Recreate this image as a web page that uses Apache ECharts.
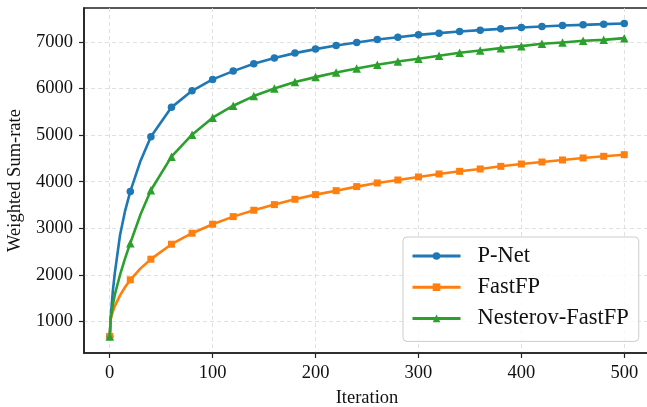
<!DOCTYPE html>
<html>
<head>
<meta charset="utf-8">
<script src="https://cdn.jsdelivr.net/npm/echarts@6/dist/echarts.min.js"></script>
<style>
html,body{margin:0;padding:0;background:#fff;}
#chart{width:647px;height:407px;}
</style>
</head>
<body>
<div id="chart"></div>
<script>
const iterations = [0, 1, 3, 5, 10, 15, 20, 30, 40, 60, 80, 100, 120, 140, 160, 180, 200, 220, 240, 260, 280, 300, 320, 340, 360, 380, 400, 420, 440, 460, 480, 500];
const pNet = [680, 1100, 1650, 2050, 2850, 3380, 3790, 4450, 4964, 5594, 5950, 6194, 6372, 6529, 6651, 6758, 6844, 6922, 6986, 7051, 7100, 7150, 7186, 7222, 7251, 7279, 7308, 7329, 7350, 7364, 7379, 7393];
const fastFP = [680, 1050, 1210, 1330, 1560, 1740, 1894, 2140, 2337, 2658, 2894, 3087, 3250, 3387, 3508, 3622, 3722, 3807, 3894, 3972, 4036, 4101, 4165, 4222, 4272, 4329, 4379, 4422, 4465, 4508, 4544, 4579];
const nesterovFastFP = [680, 1080, 1350, 1580, 2000, 2360, 2680, 3300, 3815, 4536, 5007, 5372, 5629, 5836, 6000, 6136, 6243, 6343, 6429, 6508, 6579, 6636, 6700, 6765, 6815, 6865, 6908, 6958, 6986, 7022, 7043, 7079];
const seriesNames = ['P-Net', 'FastFP', 'Nesterov-FastFP'];
const xTicks = [0, 100, 200, 300, 400, 500];
const yTicks = [1000, 2000, 3000, 4000, 5000, 6000, 7000];
const markerStep = 20;

const FONT = '"Liberation Serif", "Times New Roman", serif';
const colors = ['#1f77b4', '#ff7f0e', '#2ca02c'];
const symbols = ['circle', 'rect', 'triangle'];
const sizes = [7.5, 7, 8.5];
const values = [pNet, fastFP, nesterovFastFP];

const chart = echarts.init(document.getElementById('chart'), null, {renderer: 'canvas'});

const series = seriesNames.map((name, i) => ({
  name: name,
  type: 'line',
  smooth: false,
  showAllSymbol: true,
  symbol: symbols[i],
  symbolSize: (v) => (v[0] % markerStep === 0 ? sizes[i] : 0),
  data: iterations.map((x, k) => [x, values[i][k]]),
  lineStyle: {color: colors[i], width: 2.6, join: 'round'},
  itemStyle: {color: colors[i], borderWidth: 0},
  emphasis: {disabled: true},
  z: 3 + i
}));

const axisLineStyle = {color: '#222', width: 1.6};
const gridLine = {show: true, lineStyle: {color: '#d8d8d8', width: 0.8, type: [4, 3]}};

chart.setOption({
  animation: false,
  backgroundColor: '#fff',
  grid: {
    left: 84, top: 8, width: 566, height: 345,
    show: true, borderColor: '#222', borderWidth: 1.6, backgroundColor: 'transparent',
    containLabel: false,
    outerBoundsMode: 'none'
  },
  xAxis: {
    type: 'value',
    min: -25, max: 525,
    name: 'Iteration',
    nameLocation: 'middle',
    nameGap: 36,
    nameTextStyle: {fontFamily: FONT, fontSize: 18.5, color: '#111'},
    axisLine: {show: true, onZero: false, lineStyle: axisLineStyle},
    axisTick: {show: true, inside: false, length: 5, lineStyle: {color: '#222', width: 1.2}, customValues: xTicks},
    axisLabel: {fontFamily: FONT, fontSize: 18.5, color: '#111', margin: 11, customValues: xTicks, formatter: (v) => String(v)},
    splitLine: gridLine
  },
  yAxis: {
    type: 'value',
    min: 324, max: 7726,
    name: 'Weighted Sum-rate',
    nameLocation: 'middle',
    nameGap: 58,
    nameTextStyle: {fontFamily: FONT, fontSize: 18.5, color: '#111'},
    axisLine: {show: true, onZero: false, lineStyle: axisLineStyle},
    axisTick: {show: true, inside: false, length: 5, lineStyle: {color: '#222', width: 1.2}, customValues: yTicks},
    axisLabel: {fontFamily: FONT, fontSize: 18.5, color: '#111', margin: 11, customValues: yTicks, formatter: (v) => String(v)},
    splitLine: gridLine
  },
  legend: {
    show: true,
    orient: 'vertical',
    left: 403, top: 237,
    width: 235,
    data: seriesNames,
    itemWidth: 48,
    itemHeight: 9.5,
    itemGap: 5.2,
    padding: [6, 10, 10, 8],
    backgroundColor: 'rgba(255,255,255,0.8)',
    borderColor: '#cccccc',
    borderWidth: 1,
    borderRadius: 4,
    lineStyle: {width: 3},
    textStyle: {fontFamily: FONT, fontSize: 22.5, color: '#111', lineHeight: 26, padding: [0, 0, 0, 12]},
    selectedMode: false
  },
  series: series
});
</script>
</body>
</html>
